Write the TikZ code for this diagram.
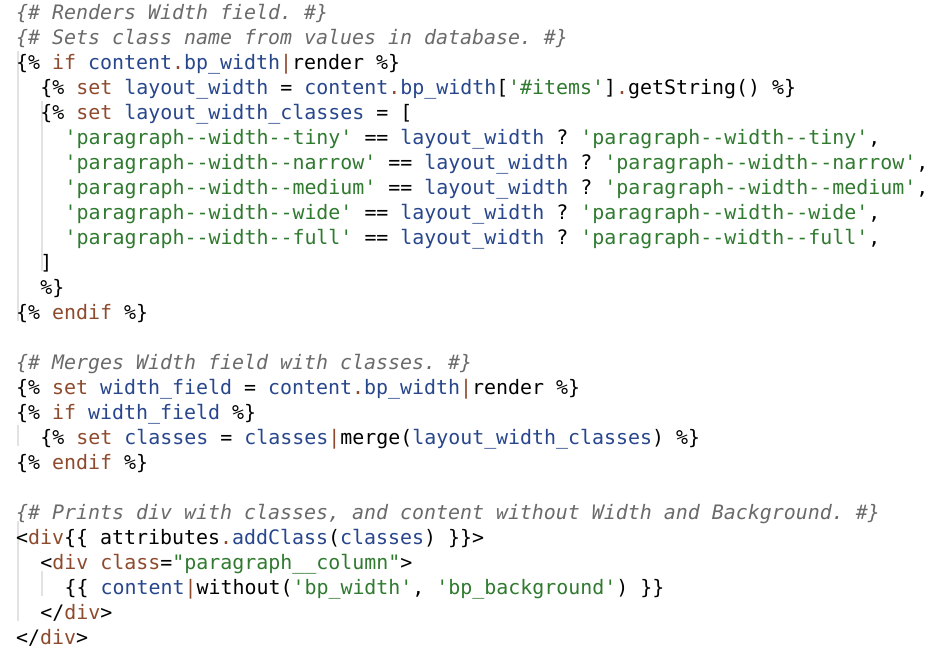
\documentclass[tikz,border=0pt]{standalone}
\usepackage{fontspec}
\setmonofont{DejaVu Sans Mono}
\usetikzlibrary{positioning}
\definecolor{cmtgray}{HTML}{6A6A6A}
\definecolor{kwbrown}{HTML}{8E4A2C}
\definecolor{varblue}{HTML}{27468C}
\definecolor{strgreen}{HTML}{2F7A2F}
\definecolor{guidegray}{HTML}{E2E2E2}
\newcommand{\kw}[1]{\textcolor{kwbrown}{#1}}
\newcommand{\vr}[1]{\textcolor{varblue}{#1}}
\newcommand{\st}[1]{\textcolor{strgreen}{#1}}
\newcommand{\cm}[1]{\textcolor{cmtgray}{\itshape #1}}
\newcommand{\dt}{\kw{.}}
\newcommand{\pp}{\kw{|}}
% one line of code: name, indent, line number, text
\newcommand{\codeline}[4]{\node[codetext] (#1) at ({16+12.1*#2},{631-25*#3}) {#4};}
\begin{document}
\begin{tikzpicture}[x=1bp,y=1bp,
    codetext/.style={anchor=base west, inner sep=0pt, font=\ttfamily\fontsize{20}{25}\selectfont},
    guide/.style={guidegray, line width=1.2bp}]
        \useasboundingbox[fill=white] (0,0) rectangle (951,651);
        % Indent guides
        \draw[guide] (18,600) -- (18,330);
        \draw[guide] (42,550) -- (42,380);
        \draw[guide] (18,226) -- (18,205);
        \draw[guide] (18,130) -- (18,30);
        \draw[guide] (42,80) -- (42,55);
        % First block
        \codeline{c0}{0}{0}{\cm{\{\# Renders Width field. \#\}}}
        \codeline{c1}{0}{1}{\cm{\{\# Sets class name from values in database. \#\}}}
        \codeline{c2}{0}{2}{\{\% \kw{if} \vr{content}\dt\vr{bp\_width}\pp render \%\}}
        \codeline{c3}{2}{3}{\{\% \kw{set} \vr{layout\_width} = \vr{content}\dt\vr{bp\_width}[\st{'\#items'}]\dt getString() \%\}}
        \codeline{c4}{2}{4}{\{\% \kw{set} \vr{layout\_width\_classes} = [}
        \foreach \w [count=\i from 5] in {tiny,narrow,medium,wide,full} {
                \codeline{w\i}{4}{\i}{\st{'paragraph--width--\w'} == \vr{layout\_width} ? \st{'paragraph--width--\w'},}
            }
        \codeline{c10}{2}{10}{]}
        \codeline{c11}{2}{11}{\%\}}
        \codeline{c12}{0}{12}{\{\% \kw{endif} \%\}}
        % Second block
        \codeline{c14}{0}{14}{\cm{\{\# Merges Width field with classes. \#\}}}
        \codeline{c15}{0}{15}{\{\% \kw{set} \vr{width\_field} = \vr{content}\dt\vr{bp\_width}\pp render \%\}}
        \codeline{c16}{0}{16}{\{\% \kw{if} \vr{width\_field} \%\}}
        \codeline{c17}{2}{17}{\{\% \kw{set} \vr{classes} = \vr{classes}\pp merge(\vr{layout\_width\_classes}) \%\}}
        \codeline{c18}{0}{18}{\{\% \kw{endif} \%\}}
        % Third block
        \codeline{c20}{0}{20}{\cm{\{\# Prints div with classes, and content without Width and Background. \#\}}}
        \codeline{c21}{0}{21}{<\kw{div}\{\{ attributes\dt\vr{addClass}(\vr{classes}) \}\}>}
        \codeline{c22}{2}{22}{<\kw{div} \kw{class}=\st{"paragraph\_\_column"}>}
        \codeline{c23}{4}{23}{\{\{ \vr{content}\pp without(\st{'bp\_width'}, \st{'bp\_background'}) \}\}}
        \codeline{c24}{2}{24}{</\kw{div}>}
        \codeline{c25}{0}{25}{</\kw{div}>}
    \end{tikzpicture}
\end{document}
